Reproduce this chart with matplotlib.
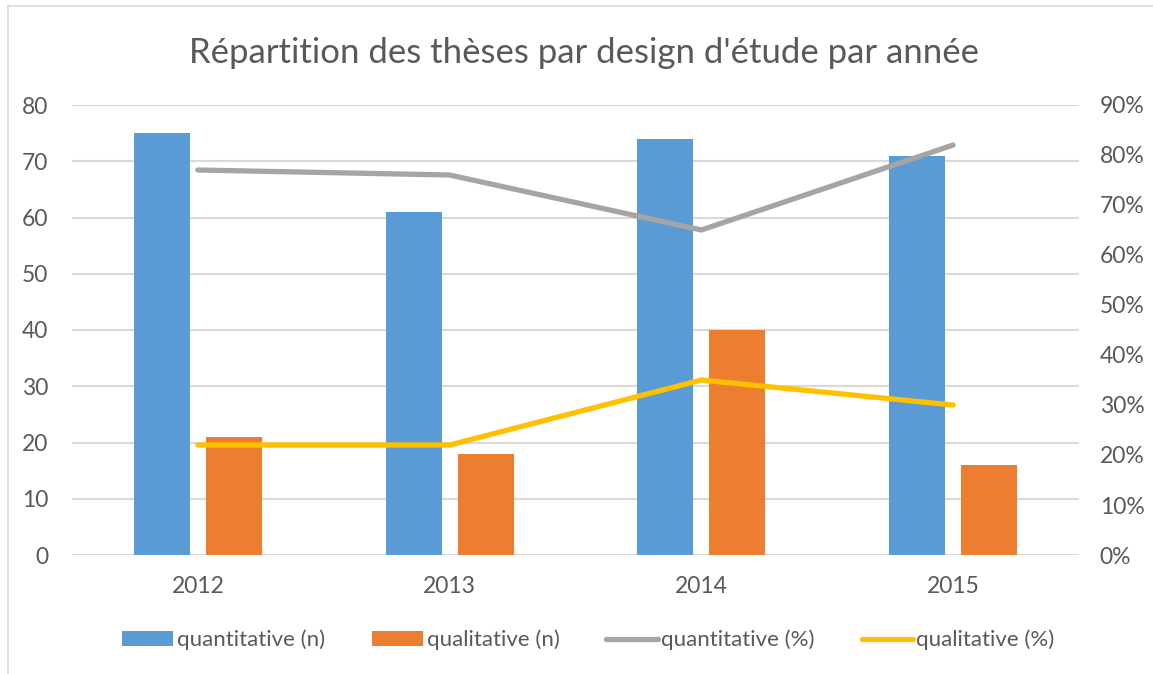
import matplotlib
matplotlib.use("Agg")
import matplotlib.pyplot as plt
import numpy as np
from matplotlib.lines import Line2D
from matplotlib.ticker import PercentFormatter

years = ["2012", "2013", "2014", "2015"]
quanti_n = [75, 61, 74, 71]
quali_n = [21, 18, 40, 16]
quanti_pct = [0.77, 0.76, 0.65, 0.82]
quali_pct = [0.22, 0.22, 0.35, 0.30]

BLUE = "#5B9BD5"
ORANGE = "#ED7D31"
GREY = "#A5A5A5"
YELLOW = "#FFC000"
TXT = "#595959"
GRID = "#D9D9D9"

plt.rcParams["font.family"] = ["Lato", "DejaVu Sans"]

fig = plt.figure(figsize=(11.53, 6.74), dpi=100)
ax = fig.add_axes([72 / 1153, 1 - 555 / 674, (1079 - 72) / 1153, 450 / 674])
ax2 = ax.twinx()

x = np.arange(len(years))
w = 0.222
ax.bar(x - 0.143, quanti_n, w, color=BLUE, label="quantitative (n)", zorder=2)
ax.bar(x + 0.143, quali_n, w, color=ORANGE, label="qualitative (n)", zorder=2)

ax2.plot(x, quanti_pct, color=GREY, lw=3.8, solid_capstyle="round",
         solid_joinstyle="round", label="quantitative (%)")
ax2.plot(x, quali_pct, color=YELLOW, lw=3.8, solid_capstyle="round",
         solid_joinstyle="round", label="qualitative (%)")

ax.set_xlim(-0.5, 3.5)
ax.set_ylim(0, 80)
ax.set_yticks(range(0, 81, 10))
ax2.set_ylim(0, 0.9)
ax2.set_yticks(np.arange(0, 0.91, 0.1))
ax2.yaxis.set_major_formatter(PercentFormatter(1.0, decimals=0))
ax.set_xticks(x)
ax.set_xticklabels(years)

ax.grid(axis="y", color=GRID, lw=1.5, zorder=0)
ax.set_axisbelow(True)
for a in (ax, ax2):
    for s in a.spines.values():
        s.set_visible(False)
ax.tick_params(axis="y", length=0, pad=17, labelsize=16.5, labelcolor=TXT)
ax.tick_params(axis="x", length=0, pad=15, labelsize=16.5, labelcolor=TXT)
ax2.tick_params(axis="y", length=0, pad=15, labelsize=16.5, labelcolor=TXT)

fig.text(584 / 1153, 1 - 53 / 674, "Répartition des thèses par design d'étude par année",
         ha="center", va="center", fontsize=25, color=TXT)

h1, l1 = ax.get_legend_handles_labels()
h2, l2 = ax2.get_legend_handles_labels()
fig.legend(h1 + h2, l1 + l2, loc="center", bbox_to_anchor=(0.5104, 1 - 640 / 674),
           ncol=4, frameon=False, fontsize=16, labelcolor=TXT,
           handlelength=2.3, handleheight=0.6, handletextpad=0.17, columnspacing=2.1)

# chart-area border (top and left edges visible)
fig.add_artist(Line2D([8 / 1153, 1], [1 - 6 / 674, 1 - 6 / 674], color=GRID, lw=1.2))
fig.add_artist(Line2D([8 / 1153, 8 / 1153], [0, 1 - 6 / 674], color=GRID, lw=1.2))

fig.savefig("out.png", dpi=100)
